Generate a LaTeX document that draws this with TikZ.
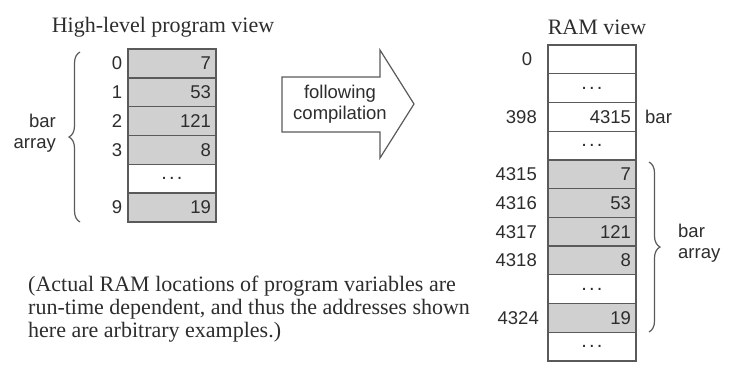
\documentclass[tikz,border=0pt]{standalone}
\usepackage{fontspec}
\setmainfont{Liberation Serif}
\setsansfont{Liberation Sans}
\usetikzlibrary{decorations.pathreplacing}
\definecolor{linec}{RGB}{90,90,90}
\definecolor{cellgray}{RGB}{208,208,208}
\definecolor{txt}{RGB}{45,45,45}
\newcommand{\sanstxt}{\sffamily\fontsize{18.5}{21}\selectfont}
\newcommand{\seriftxt}{\rmfamily\fontsize{22}{22.7}\selectfont}
\newcommand{\celldots}{{\fontsize{20}{20}\selectfont .\kern2.2pt.\kern2.2pt.}}
\tikzset{
  cell/.style={draw=linec, line width=1.3pt, minimum width=88pt, minimum height=28.8pt,
    text width=78pt, inner xsep=5pt, inner ysep=0pt, outer sep=0pt, align=right,
    text=txt, font=\sanstxt},
  gcell/.style={cell, fill=cellgray},
  dcell/.style={cell, align=center},
  lbl/.style={text=txt, font=\sanstxt, inner sep=0pt},
  ttl/.style={text=txt, font=\seriftxt, inner sep=0pt},
  brc/.style={draw=linec, line width=1.2pt, decorate, decoration={brace, amplitude=11pt}},
}
\begin{document}
\begin{tikzpicture}[x=1pt,y=-1pt]
\useasboundingbox (0,0) rectangle (735,370);
% left view
\node[ttl] (t1) at (163,27) {High-level program view};
\node[gcell] (L0) at (172,63.4) {7};
\node[gcell] (L1) at (172,92.3) {53};
\node[gcell] (L2) at (172,121.1) {121};
\node[gcell] (L3) at (172,149.9) {8};
\node[dcell] (L4) at (172,178.7) {\celldots};
\node[gcell] (L5) at (172,207.6) {19};
\node[lbl] (i0) at (117,63.4) {0};
\node[lbl] (i1) at (117,92.3) {1};
\node[lbl] (i2) at (117,121.1) {2};
\node[lbl] (i3) at (117,149.9) {3};
\node[lbl] (i5) at (117,207.6) {9};
\coordinate (lb1) at (80,222);
\coordinate (lb2) at (80,52);
\draw[brc] (lb1) -- (lb2);
\node[lbl, anchor=east, align=right] (la) at (56,133) {bar\\array};
% arrow
\draw[linec, line width=1.2pt, fill=white, line join=miter]
  (282,77) -- (380,77) -- (380,50) -- (414,104) -- (380,158) -- (380,132) -- (282,132) -- cycle;
\node[lbl, align=center] (arr) at (340,104) {following\\compilation};
% RAM view
\node[ttl] (t2) at (597,27) {RAM view};
\node[cell] (R0) at (592,59.4) {};
\node[dcell] (R1) at (592,88.1) {\celldots};
\node[cell] (R2) at (592,116.8) {4315};
\node[dcell] (R3) at (592,145.6) {\celldots};
\node[gcell] (R4) at (592,174.3) {7};
\node[gcell] (R5) at (592,203.0) {53};
\node[gcell] (R6) at (592,231.7) {121};
\node[gcell] (R7) at (592,260.4) {8};
\node[dcell] (R8) at (592,289.2) {\celldots};
\node[gcell] (R9) at (592,317.9) {19};
\node[dcell] (R10) at (592,346.6) {\celldots};
\node[lbl] (a0) at (527,59.4) {0};
\node[lbl, anchor=east] (a2) at (537,116.8) {398};
\node[lbl, anchor=east] (a4) at (537,174.3) {4315};
\node[lbl, anchor=east] (a5) at (537,203.0) {4316};
\node[lbl, anchor=east] (a6) at (537,231.7) {4317};
\node[lbl, anchor=east] (a7) at (537,260.4) {4318};
\node[lbl, anchor=east] (a9) at (539,317.9) {4324};
\node[lbl, anchor=west] (bar) at (645,116.8) {bar};
\coordinate (rb1) at (649,162);
\coordinate (rb2) at (649,332);
\draw[brc] (rb1) -- (rb2);
\node[lbl, anchor=west, align=left] (ra) at (678,243) {bar\\array};
% note
\node[ttl, anchor=north west, align=left] (note) at (28,276) {(Actual RAM locations of program variables are\\run-time dependent, and thus the addresses shown\\here are arbitrary examples.)};
\end{tikzpicture}
\end{document}
